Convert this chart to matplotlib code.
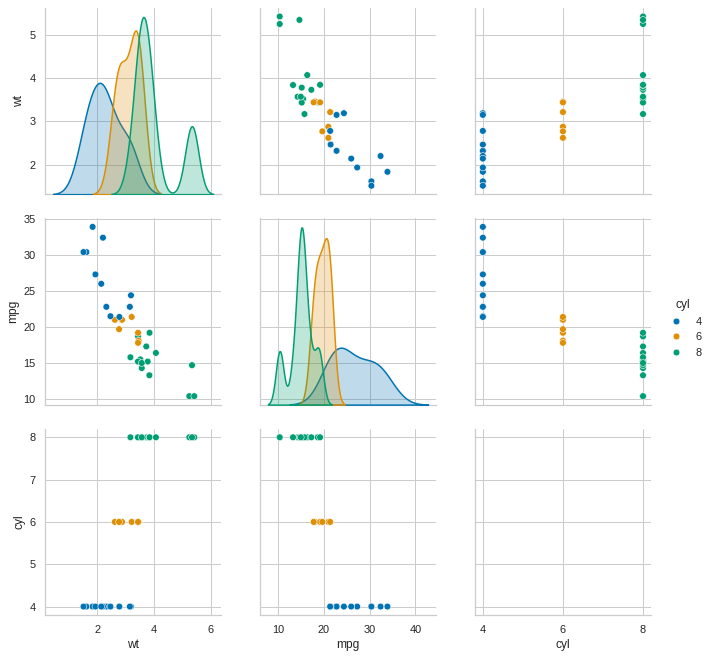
import matplotlib
matplotlib.use("Agg")
import matplotlib.pyplot as plt
import numpy as np
import pandas as pd
import seaborn as sns

# mtcars: weight, mileage, cylinders
wt = [2.620, 2.875, 2.320, 3.215, 3.440, 3.460, 3.570, 3.190, 3.150, 3.440, 3.440,
      4.070, 3.730, 3.780, 5.250, 5.424, 5.345, 2.200, 1.615, 1.835, 2.465, 3.520,
      3.435, 3.840, 3.845, 1.935, 2.140, 1.513, 3.170, 2.770, 3.570, 2.780]
mpg = [21.0, 21.0, 22.8, 21.4, 18.7, 18.1, 14.3, 24.4, 22.8, 19.2, 17.8,
       16.4, 17.3, 15.2, 10.4, 10.4, 14.7, 32.4, 30.4, 33.9, 21.5, 15.5,
       15.2, 13.3, 19.2, 27.3, 26.0, 30.4, 15.8, 19.7, 15.0, 21.4]
cyl = [6, 6, 4, 6, 8, 6, 8, 4, 4, 6, 6,
       8, 8, 8, 8, 8, 8, 4, 4, 4, 4, 8,
       8, 8, 8, 4, 4, 4, 8, 6, 8, 4]


def diag_kde(x, color=None, label=None, **kwargs):
    # old seaborn/statsmodels "scott" bandwidth, each level normalised on its own
    x = np.asarray(x, dtype=float)
    sd = np.std(x, ddof=1)
    if sd == 0:
        return
    iqr = np.subtract(*np.percentile(x, [75, 25]))
    a = min(sd, iqr / 1.349) if iqr > 0 else sd
    bw = 1.059 * a * len(x) ** -0.2
    sns.kdeplot(x=x, bw_method=bw / sd, color=color, fill=True, alpha=0.25,
                linewidth=1.5, cut=3, gridsize=100, ax=plt.gca())


def main():
    df = pd.DataFrame({"wt": wt, "mpg": mpg, "cyl": cyl})

    sns.set_theme(style="whitegrid")
    plt.rcParams["font.family"] = ["Liberation Sans", "DejaVu Sans"]

    g = sns.PairGrid(df, vars=["wt", "mpg", "cyl"], hue="cyl", palette="colorblind",
                     height=2.5, diag_sharey=False)
    g.map_diag(diag_kde)
    g.map_offdiag(sns.scatterplot, s=45)
    g.add_legend()
    g.axes[2, 2].set_xticks([4, 6, 8])

    fig = g.figure
    fig.set_size_inches(708 / 72, 657 / 72)
    fig.subplots_adjust(left=0.0636, right=0.9195, bottom=0.0639, top=0.9878,
                        wspace=0.22, hspace=0.13)
    sns.move_legend(g, "center left", bbox_to_anchor=(0.925, 0.5), frameon=False)
    fig.savefig("out.png", dpi=72)


if __name__ == "__main__":
    main()
